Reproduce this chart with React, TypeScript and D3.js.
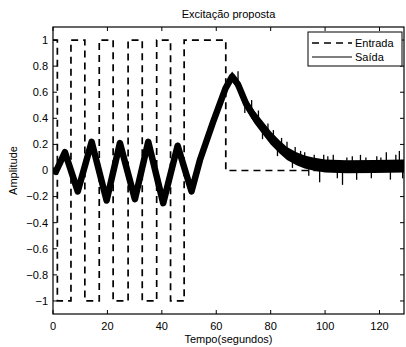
import React from 'react';
import * as d3 from 'd3';

// input (PRBS-like) — level changes at these times
const inputTimes = [0, 1.6, 6.6, 11.7, 17.0, 22.1, 27.6, 32.8, 38.1, 43.2, 48.2, 63.5, 129];
const inputLevels = [1, -1, 1, -1, 1, -1, 1, -1, 1, -1, 1, 0, 0];

// output — centre of the noisy band, read at peaks/troughs and along the decay
const outputTimes = [0, 1, 4.4, 9.1, 14.2, 19.7, 24.6, 30.1, 35.0, 40.5, 45.8, 50.9, 54, 58.8, 63.4, 65.8, 68, 71, 74, 77, 80, 83.3, 86, 89.5, 92.5, 95.6, 100, 108, 118, 129];
const outputValues = [0.0, -0.01, 0.14, -0.16, 0.22, -0.23, 0.21, -0.22, 0.22, -0.25, 0.19, -0.16, 0.08, 0.37, 0.63, 0.72, 0.66, 0.51, 0.41, 0.33, 0.25, 0.18, 0.13, 0.09, 0.065, 0.05, 0.035, 0.028, 0.03, 0.035];

// half width of the noise band around the output
const noiseTimes = [0, 55, 75, 129];
const noiseWidth = [0.02, 0.025, 0.05, 0.05];

// visible noise spikes on the band edges
const spikeTimes = [68, 70.5, 73, 75.5, 77, 79, 81, 82.5, 84, 86, 88, 89, 91, 92.5, 94, 96, 98, 99.5, 101, 103, 104.5, 106.4, 108, 110, 111.6, 113, 115, 117, 119, 120.5, 122.5, 124, 126, 127.3, 128.5];
const spikeValues = [0.76, 0.44, 0.54, 0.46, 0.24, 0.36, 0.31, 0.11, 0.25, 0.22, 0.02, 0.18, 0.15, 0.14, -0.04, 0.12, -0.09, 0.12, 0.11, 0.12, -0.06, -0.11, 0.1, 0.11, -0.07, 0.12, 0.1, -0.06, 0.11, 0.1, 0.14, -0.07, 0.12, 0.15, -0.06];

const xTicks = [0, 20, 40, 60, 80, 100, 120];
const yTicks = [-1, -0.8, -0.6, -0.4, -0.2, 0, 0.2, 0.4, 0.6, 0.8, 1];

const W = 406;
const H = 347;
const plot = { left: 53, right: 404, top: 27, bottom: 314 };
const font = '"Liberation Sans", Arial, Helvetica, sans-serif';
const fs = 11;
const tickLen = 4;

const fmt = (v: number) => {
  const s = String(Math.round(Math.abs(v) * 10) / 10);
  return v < 0 ? '\u2212' + s : s;
};

export default function App() {
  const x = d3.scaleLinear().domain([0, 129]).range([plot.left, plot.right]);
  const y = d3.scaleLinear().domain([-1.1, 1.1]).range([plot.bottom, plot.top]);

  const inputPts = inputTimes.map((t, i) => [t, inputLevels[i]] as [number, number]);
  const outputPts = outputTimes.map((t, i) => [t, outputValues[i]] as [number, number]);

  const noise = d3.scaleLinear().domain(noiseTimes).range(noiseWidth).clamp(true);
  const centre = d3.scaleLinear().domain(outputTimes).range(outputValues);

  const inputLine = d3.line<[number, number]>()
    .x(d => x(d[0]))
    .y(d => y(d[1]))
    .curve(d3.curveStepAfter);

  const outputLine = d3.line<[number, number]>()
    .x(d => x(d[0]))
    .y(d => y(d[1]));

  const band = d3.area<[number, number]>()
    .x(d => x(d[0]))
    .y0(d => y(d[1] - noise(d[0])))
    .y1(d => y(d[1] + noise(d[0])));

  return (
    <svg width={W} height={H} style={{ position: 'absolute', left: 0, top: 0, background: '#fff' }}
      fontFamily={font}>
      <defs>
        <clipPath id="plot-clip">
          <rect x={plot.left} y={plot.top} width={plot.right - plot.left} height={plot.bottom - plot.top} />
        </clipPath>
      </defs>

      <rect x={0} y={0} width={W} height={H} fill="#fff" />

      <g clipPath="url(#plot-clip)">
        {/* output */}
        <path d={band(outputPts) || ''} fill="#000" />
        <path d={outputLine(outputPts) || ''} fill="none" stroke="#000" strokeWidth={6.5}
          strokeLinejoin="round" strokeLinecap="round" />
        {spikeTimes.map((t, i) => (
          <line key={i} x1={x(t)} x2={x(t)} y1={y(centre(t))} y2={y(spikeValues[i])}
            stroke="#000" strokeWidth={1.3} />
        ))}
        {/* input */}
        <path d={inputLine(inputPts) || ''} fill="none" stroke="#000" strokeWidth={1.7}
          strokeDasharray="7,5" />
      </g>

      {/* box */}
      <rect x={plot.left} y={plot.top} width={plot.right - plot.left} height={plot.bottom - plot.top}
        fill="none" stroke="#000" strokeWidth={1.2} />

      {/* x ticks */}
      {xTicks.map(t => (
        <g key={'x' + t}>
          <line x1={x(t)} x2={x(t)} y1={plot.bottom} y2={plot.bottom - tickLen} stroke="#000" />
          <line x1={x(t)} x2={x(t)} y1={plot.top} y2={plot.top + tickLen} stroke="#000" />
          <text x={x(t)} y={330} textAnchor="middle" fontSize={fs}>{t}</text>
        </g>
      ))}

      {/* y ticks */}
      {yTicks.map(t => (
        <g key={'y' + t}>
          <line x1={plot.left} x2={plot.left + tickLen} y1={y(t)} y2={y(t)} stroke="#000" />
          <line x1={plot.right} x2={plot.right - tickLen} y1={y(t)} y2={y(t)} stroke="#000" />
          <text x={48} y={y(t)} dy="0.35em" textAnchor="end" fontSize={fs}>{fmt(t)}</text>
        </g>
      ))}

      {/* labels */}
      <text x={(plot.left + plot.right) / 2} y={18} textAnchor="middle" fontSize={fs}>Excitação proposta</text>
      <text x={(plot.left + plot.right) / 2} y={343} textAnchor="middle" fontSize={fs}>Tempo(segundos)</text>
      <text transform={`translate(17,${(plot.top + plot.bottom) / 2}) rotate(-90)`} textAnchor="middle"
        fontSize={fs}>Amplitude</text>

      {/* legend */}
      <g>
        <rect x={308} y={32} width={94} height={34} fill="#fff" stroke="#000" strokeWidth={1} />
        <line x1={312} x2={352} y1={43} y2={43} stroke="#000" strokeWidth={1.7} strokeDasharray="7,5" />
        <text x={355} y={43} dy="0.35em" fontSize={fs}>Entrada</text>
        <line x1={312} x2={352} y1={57} y2={57} stroke="#000" strokeWidth={1} />
        <text x={355} y={57} dy="0.35em" fontSize={fs}>Saída</text>
      </g>
    </svg>
  );
}
